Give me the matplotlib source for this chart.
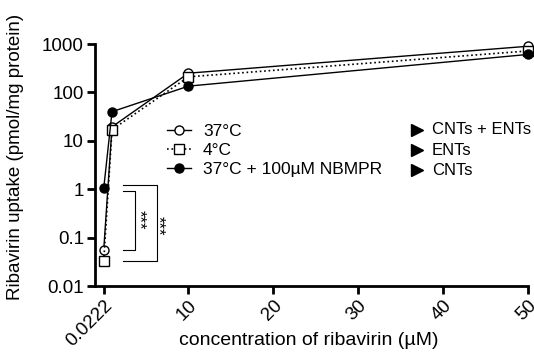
import matplotlib
matplotlib.use("Agg")
import matplotlib.pyplot as plt

plt.rcParams['font.family'] = ['Liberation Sans', 'DejaVu Sans']

# =====================================================
# DATA
# =====================================================

conc = [0.0222, 1, 10, 50]

uptake_37 = [0.056, 19.5, 250, 900]
uptake_4 = [0.033, 17, 210, 720]
uptake_nbmpr = [1.05, 40, 135, 610]

labels = ["37°C", "4°C", "37°C + 100µM NBMPR"]
routes = ["CNTs + ENTs", "ENTs", "CNTs"]

xticks = [0.0222, 10, 20, 30, 40, 50]
xticklabels = ["0.0222", "10", "20", "30", "40", "50"]
yticks = [0.01, 0.1, 1, 10, 100, 1000]
yticklabels = ["0.01", "0.1", "1", "10", "100", "1000"]

# =====================================================
# FIGURE
# =====================================================

fig = plt.figure(figsize=(5.34, 3.58), dpi=100)
ax = fig.add_axes([0.178, 0.201, 0.811, 0.676])

ax.plot(conc, uptake_37, '-o', color='black', mfc='white', mec='black',
        ms=6.5, lw=1, clip_on=False, zorder=3, label=labels[0])
ax.plot(conc, uptake_4, ':s', color='black', mfc='white', mec='black',
        ms=6.5, lw=1.2, clip_on=False, zorder=3, label=labels[1])
ax.plot(conc, uptake_nbmpr, '-o', color='black', mfc='black', mec='black',
        ms=6.5, lw=1, clip_on=False, zorder=3, label=labels[2])

ax.set_yscale('log')
ax.set_ylim(0.01, 1000)
ax.set_xlim(-1, 50)

ax.set_yticks(yticks)
ax.set_yticklabels(yticklabels, fontsize=13.5)
ax.minorticks_off()
ax.set_xticks(xticks)
ax.set_xticklabels(xticklabels, fontsize=13.5, rotation=45,
                   ha='right', rotation_mode='anchor')

ax.tick_params(direction='out', length=6, width=2, pad=2)

for side in ['top', 'right']:
    ax.spines[side].set_visible(False)
for side in ['left', 'bottom']:
    ax.spines[side].set_linewidth(2)

ax.set_ylabel("Ribavirin uptake (pmol/mg protein)", fontsize=13.5)
ax.yaxis.set_label_coords(-0.165, 0.535)
ax.set_xlabel("concentration of ribavirin (µM)", fontsize=14)
ax.xaxis.set_label_coords(0.494, -0.19)

# significance brackets
ax.plot([2.25, 3.7, 3.7, 2.25], [0.9, 0.9, 0.056, 0.056],
        color='black', lw=0.8)
ax.plot([2.25, 6.3, 6.3, 2.25], [1.2, 1.2, 0.033, 0.033],
        color='black', lw=0.8)
ax.text(4.2, 0.23, "***", rotation=-90, fontsize=12,
        ha='center', va='center')
ax.text(6.4, 0.18, "***", rotation=-90, fontsize=12,
        ha='center', va='center')

# legend
ax.legend(loc='center left', bbox_to_anchor=(0.165, 0.562), frameon=False,
          fontsize=12.5, handlelength=1.4, handletextpad=0.7,
          labelspacing=0.22, borderpad=0, borderaxespad=0)

# transport routes
route_y = [0.645, 0.562, 0.479]
for name, yy in zip(routes, route_y):
    ax.plot([0.743], [yy], marker='>', color='black', ms=9,
            transform=ax.transAxes, clip_on=False)
    ax.text(0.778, yy, name, transform=ax.transAxes, fontsize=12,
            va='center', ha='left')

fig.savefig("out.png", dpi=100)
